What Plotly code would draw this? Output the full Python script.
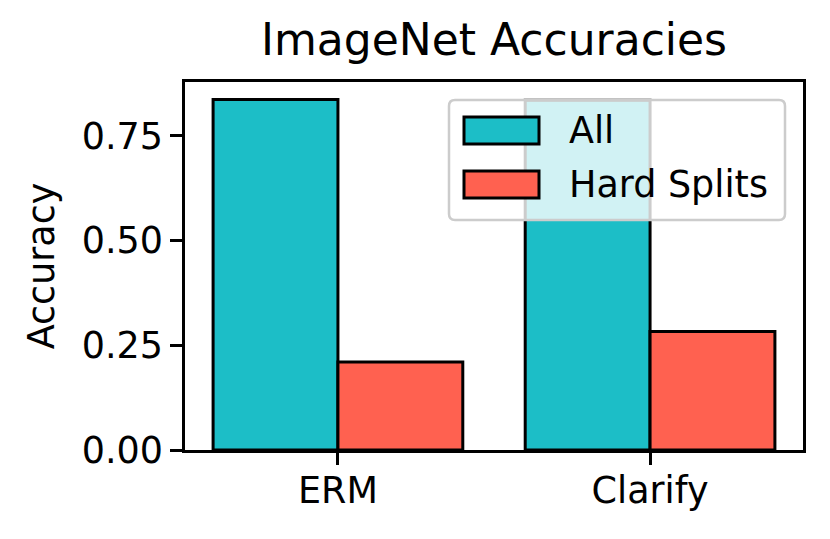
import plotly.graph_objects as go

categories = ["ERM", "Clarify"]
all_acc = [0.837, 0.835]
hard_acc = [0.210, 0.283]
series_names = ["All", "Hard Splits"]
y_ticks = [0.0, 0.25, 0.5, 0.75]
y_ticklabels = ["0.00", "0.25", "0.50", "0.75"]

teal = "#1cbec7"
tomato = "#ff6150"
FONT = "DejaVu Sans"

fig = go.Figure()
fig.add_trace(go.Bar(x=categories, y=all_acc, name=series_names[0], marker=dict(color=teal, line=dict(color="black", width=3)), showlegend=False))
fig.add_trace(go.Bar(x=categories, y=hard_acc, name=series_names[1], marker=dict(color=tomato, line=dict(color="black", width=3)), showlegend=False))

W, H = 830, 539
L, R, T, B = 185, 27, 82, 89
pw, ph = W - L - R, H - T - B

def px(x):
    return (x - L) / pw

def py(y):
    return (H - B - y) / ph

# custom legend (matplotlib-style)
x0, x1, y0, y1, r = 449, 785, 100, 220, 6
path = (f"M {px(x0 + r)} {py(y0)} L {px(x1 - r)} {py(y0)} Q {px(x1)} {py(y0)} {px(x1)} {py(y0 + r)} "
        f"L {px(x1)} {py(y1 - r)} Q {px(x1)} {py(y1)} {px(x1 - r)} {py(y1)} "
        f"L {px(x0 + r)} {py(y1)} Q {px(x0)} {py(y1)} {px(x0)} {py(y1 - r)} "
        f"L {px(x0)} {py(y0 + r)} Q {px(x0)} {py(y0)} {px(x0 + r)} {py(y0)} Z")
shapes = [dict(type="path", path=path, xref="paper", yref="paper", fillcolor="rgba(255,255,255,0.8)",
               line=dict(color="rgba(204,204,204,1)", width=2.5), layer="above")]
annotations = []
for i, (name, col) in enumerate(zip(series_names, [teal, tomato])):
    top = 117 + i * 54
    shapes.append(dict(type="rect", xref="paper", yref="paper", x0=px(464), x1=px(539), y0=py(top), y1=py(top + 27),
                       fillcolor=col, line=dict(color="black", width=3), layer="above"))
    annotations.append(dict(text=name, xref="paper", yref="paper", x=px(567), y=py(top + 13.5), xanchor="left",
                            yanchor="middle", showarrow=False, font=dict(family=FONT, size=36.5, color="black")))

fig.update_layout(
    width=W, height=H,
    margin=dict(l=L, r=R, t=T, b=B),
    paper_bgcolor="white", plot_bgcolor="white",
    barmode="group", bargap=0.2, bargroupgap=0,
    font=dict(family=FONT, size=36, color="black"),
    title=dict(text="ImageNet Accuracies", x=(L + pw / 2) / W, xanchor="center", y=1 - 40 / H, yanchor="middle",
               font=dict(family=FONT, size=44, color="black")),
    shapes=shapes, annotations=annotations,
)
fig.update_xaxes(range=[-0.49, 1.49], showline=True, linecolor="black", linewidth=2.5, mirror=True,
                 ticks="outside", ticklen=12, tickwidth=2.5, tickcolor="black", showgrid=False, zeroline=False,
                 tickfont=dict(family=FONT, size=36.5), ticklabelstandoff=-6)
fig.update_yaxes(range=[0, 0.8788], showline=True, linecolor="black", linewidth=2.5, mirror=True,
                 ticks="outside", ticklen=12, tickwidth=2.5, tickcolor="black", showgrid=False, zeroline=False,
                 tickvals=y_ticks, ticktext=y_ticklabels, tickfont=dict(family=FONT, size=36.5),
                 title=dict(text="Accuracy", font=dict(family=FONT, size=36.5), standoff=16))

fig.write_html("out.html", config={"displayModeBar": False}, post_script="document.body.style.margin='0';")
